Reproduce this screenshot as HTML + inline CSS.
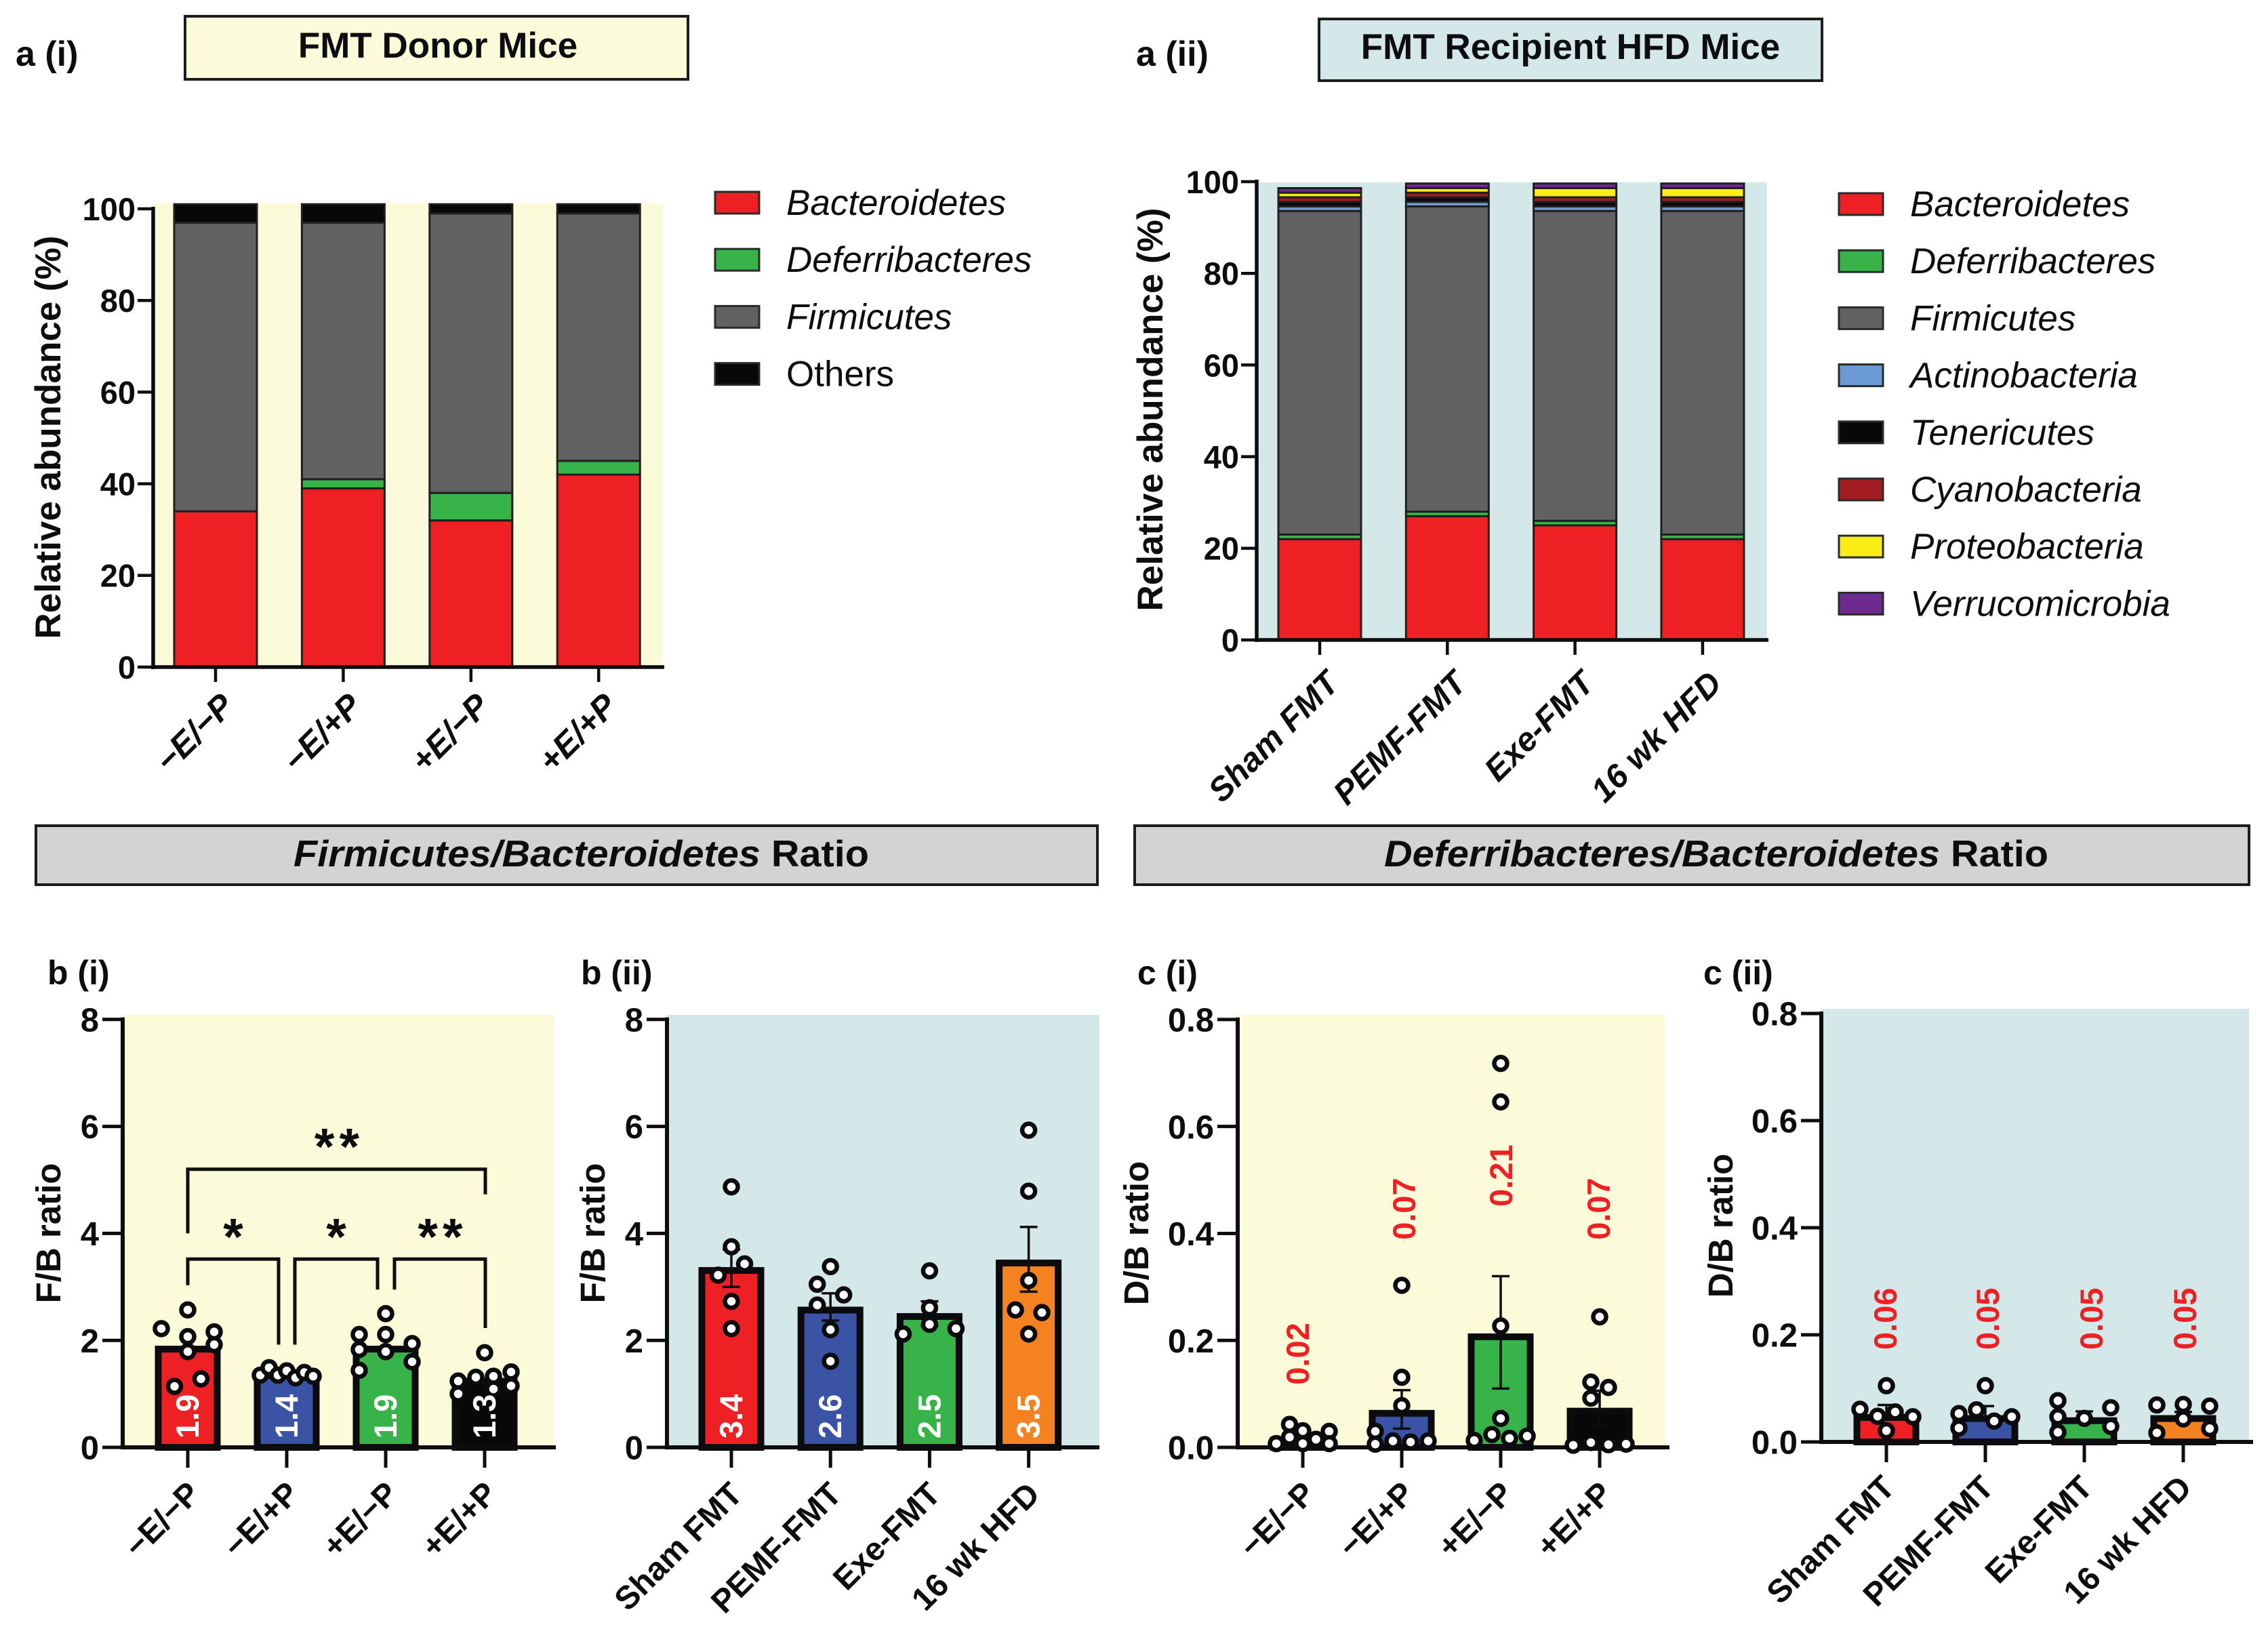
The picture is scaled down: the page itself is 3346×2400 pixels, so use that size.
<!DOCTYPE html>
<html lang="en">
<head>
<meta charset="utf-8">
<title>FMT microbiome abundance and ratio charts</title>
<style>
html,body{margin:0;padding:0;background:#fff;}
svg{display:block;font-family:"Liberation Sans",sans-serif;}
text{fill:#0d0d0f;}
</style>
</head>
<body>
<svg id="figure" xmlns="http://www.w3.org/2000/svg" width="3346" height="2400" viewBox="0 0 3346 2400">
  <rect x="0" y="0" width="3346" height="2400" fill="#ffffff"/>

  <text x="23" y="97" font-size="52" font-weight="700">a (i)</text>
  <text x="1676" y="97" font-size="52" font-weight="700">a (ii)</text>
  <text x="70" y="1452" font-size="50" font-weight="700">b (i)</text>
  <text x="857" y="1452" font-size="50" font-weight="700">b (ii)</text>
  <text x="1678" y="1452" font-size="50" font-weight="700">c (i)</text>
  <text x="2513" y="1452" font-size="50" font-weight="700">c (ii)</text>

  <rect x="273" y="24" width="742" height="93" fill="#fbfad9" stroke="#1c1c1c" stroke-width="4"/>
  <text x="646" y="85" font-size="53" font-weight="700" text-anchor="middle">FMT Donor Mice</text>
  <rect x="1946" y="28" width="742" height="91" fill="#d5e8e9" stroke="#1c1c1c" stroke-width="4"/>
  <text x="2317" y="87" font-size="53" font-weight="700" text-anchor="middle">FMT Recipient HFD Mice</text>

  <rect x="53" y="1218" width="1566" height="87" fill="#d1d3d4" stroke="#1c1c1c" stroke-width="4"/>
  <text x="433" y="1278" font-size="55" font-weight="700" textLength="849" lengthAdjust="spacingAndGlyphs"><tspan font-style="italic">Firmicutes/Bacteroidetes</tspan> Ratio</text>
  <rect x="1674" y="1218" width="1644" height="87" fill="#d1d3d4" stroke="#1c1c1c" stroke-width="4"/>
  <text x="2042" y="1278" font-size="55" font-weight="700" textLength="980" lengthAdjust="spacingAndGlyphs"><tspan font-style="italic">Deferribacteres/Bacteroidetes</tspan> Ratio</text>
</svg>

<script>
// ---------- chart data ----------
var donorGroups = ['\u2212E/\u2212P', '\u2212E/+P', '+E/\u2212P', '+E/+P'];
var recipientGroups = ['Sham FMT', 'PEMF-FMT', 'Exe-FMT', '16 wk HFD'];

var abundanceTicks = [0, 20, 40, 60, 80, 100];
var fbTicks = [0, 2, 4, 6, 8];
var dbTicks = [0.0, 0.2, 0.4, 0.6, 0.8];

var donorTaxa = ['Bacteroidetes', 'Deferribacteres', 'Firmicutes', 'Others'];
var donorBacteroidetes = [34, 39, 32, 42];
var donorDeferribacteres = [0, 2, 6, 3];
var donorFirmicutes = [63, 56, 61, 54];
var donorOthers = [4, 4, 2, 2];

var recipientTaxa = ['Bacteroidetes', 'Deferribacteres', 'Firmicutes', 'Actinobacteria', 'Tenericutes', 'Cyanobacteria', 'Proteobacteria', 'Verrucomicrobia'];
var recipientBacteroidetes = [22, 27, 25, 22];
var recipientDeferribacteres = [1, 1, 1, 1];
var recipientFirmicutes = [70.6, 66.6, 67.6, 70.6];
var recipientActinobacteria = [1, 1, 1, 1];
var recipientTenericutes = [1, 1, 1, 1];
var recipientCyanobacteria = [1, 1, 1, 1];
var recipientProteobacteria = [1, 1, 2, 2];
var recipientVerrucomicrobia = [1, 1, 1, 1];

var fbDonorMeans = [1.9, 1.4, 1.9, 1.3];
var fbDonorLabels = ['1.9', '1.4', '1.9', '1.3'];
var fbDonorErrLow = [1.9, 1.4, 1.9, 1.3];
var fbDonorErrHigh = [1.9, 1.4, 1.9, 1.3];
var fbDonorPoints = [
  [2.22, 2.57, 2.07, 2.16, 1.92, 1.79, 1.28, 1.14],
  [1.35, 1.49, 1.35, 1.43, 1.30, 1.40, 1.33],
  [2.11, 2.50, 2.11, 1.94, 1.83, 1.79, 1.60, 1.44],
  [1.77, 1.24, 1.31, 1.33, 1.41, 1.00, 1.15, 1.09]
];
var fbDonorJitter = [
  [-3, 0, 0, 3, 3, 0, 1.5, -1.5],
  [-3, -2, -1, 0, 1, 2, 3],
  [-3, 0, 0, 3, -3, 0, 3, -3],
  [0, -3, -1, 1, 3, -3, 3, 1]
];

var fbRecipientMeans = [3.37, 2.63, 2.51, 3.51];
var fbRecipientLabels = ['3.4', '2.6', '2.5', '3.5'];
var fbRecipientErrLow = [3.0, 2.37, 2.27, 2.91];
var fbRecipientErrHigh = [3.7, 2.88, 2.73, 4.12];
var fbRecipientPoints = [
  [4.87, 3.75, 3.43, 3.22, 2.73, 2.22],
  [3.38, 3.05, 2.85, 2.66, 2.20, 1.61],
  [3.30, 2.61, 2.30, 2.12, 2.22],
  [5.93, 4.79, 3.12, 2.57, 2.52, 2.12]
];
var fbRecipientJitter = [
  [0, 0, 1.5, -1.5, 0, 0],
  [0, -1.5, 1.5, -1.5, 0, 0],
  [0, 0, 0, -3, 3],
  [0, 0, 0, -1.5, 1.5, 0]
];

var dbDonorMeans = [0.02, 0.07, 0.213, 0.074];
var dbDonorLabels = ['0.02', '0.07', '0.21', '0.07'];
var dbDonorLabelAt = [0.117, 0.388, 0.45, 0.388];
var dbDonorErrLow = [0.015, 0.035, 0.11, 0.04];
var dbDonorErrHigh = [0.025, 0.107, 0.32, 0.106];
var dbDonorPoints = [
  [0.007, 0.043, 0.019, 0.031, 0.007, 0.015, 0.030, 0.007],
  [0.030, 0.006, 0.012, 0.010, 0.012, 0.131, 0.303, 0.078],
  [0.718, 0.646, 0.227, 0.054, 0.013, 0.024, 0.017, 0.021],
  [0.244, 0.122, 0.112, 0.092, 0.004, 0.009, 0.005, 0.006]
];
var dbDonorJitter = [
  [-3, -1.5, -1.5, 0, 0, 1.5, 3, 3],
  [-3, -3, -1, 1, 3, 0, 0, 0],
  [0, 0, 0, 0, -3, -1, 1, 3],
  [0, -1, 1, -1, -3, -1, 1, 3]
];

var dbRecipientMeans = [0.052, 0.05, 0.046, 0.05];
var dbRecipientLabels = ['0.06', '0.05', '0.05', '0.05'];
var dbRecipientLabelAt = [0.172, 0.172, 0.172, 0.172];
var dbRecipientErrLow = [0.045, 0.04, 0.036, 0.04];
var dbRecipientErrHigh = [0.069, 0.067, 0.057, 0.056];
var dbRecipientPoints = [
  [0.061, 0.105, 0.048, 0.056, 0.047, 0.021],
  [0.105, 0.053, 0.060, 0.039, 0.047, 0.026],
  [0.077, 0.047, 0.018, 0.044, 0.064, 0.029],
  [0.069, 0.070, 0.067, 0.043, 0.017, 0.025]
];
var dbRecipientJitter = [
  [-3, 0, -1, 1, 3, 0],
  [0, -3, -1, 1, 3, -3],
  [-3, -3, -3, 0, 3, 3],
  [-3, 0, 3, 0, -3, 3]
];

// ---------- styles ----------
var FONT_INK = '#0d0d0f';
var svg = document.getElementById('figure');
var SVGNS = 'http://www.w3.org/2000/svg';

function make(tag, attrs, parent, text) {
  var el = document.createElementNS(SVGNS, tag);
  for (var k in attrs) el.setAttribute(k, attrs[k]);
  if (text !== undefined) el.textContent = text;
  (parent || svg).appendChild(el);
  return el;
}

function line(x1, y1, x2, y2, w, parent) {
  return make('line', {x1: x1, y1: y1, x2: x2, y2: y2, stroke: FONT_INK, 'stroke-width': w}, parent);
}

function drawAxes(cfg, ticks, tickText) {
  var yOf = cfg.y;
  var bg = make('rect', {x: cfg.left, y: cfg.bgTop, width: cfg.right - cfg.left, height: cfg.base - cfg.bgTop, fill: cfg.bg});
  
  

  ticks.forEach(function (t, i) {
    var tick = line(cfg.left - cfg.tickLen, yOf(t), cfg.left, yOf(t), cfg.tickW);
    
    
    var lab = make('text', {x: cfg.left - cfg.tickLen - cfg.labelGap, y: yOf(t) + cfg.tickFont * 0.36, 'text-anchor': 'end', 'font-size': cfg.tickFont, 'font-weight': 700}, svg, tickText(t));
    
    
  });

  var title = make('text', {transform: 'translate(' + cfg.titleX + ' ' + cfg.titleY + ') rotate(-90)', 'text-anchor': 'middle', 'font-size': cfg.titleFont, 'font-weight': 700}, svg, cfg.title);
  
  
}

function drawAxisLines(cfg, groups) {
  var yAxis = line(cfg.left, yTop(cfg) - 3, cfg.left, cfg.base + 3, cfg.axisW);
  
  
  var xAxis = line(cfg.left - cfg.axisW / 2, cfg.base, cfg.axisEnd, cfg.base, cfg.axisW);
  
  

  groups.forEach(function (g, i) {
    var cx = cfg.x(i);
    var tick = line(cx, cfg.base, cx, cfg.base + cfg.xTickLen, cfg.tickW);
    
    
    var lab = make('text', {
      transform: 'translate(' + (cx + cfg.xLabelDx) + ' ' + (cfg.base + cfg.xLabelDy) + ') rotate(-45)',
      'text-anchor': 'end', 'font-size': cfg.xFont, 'font-weight': 700, 'font-style': cfg.xStyle
    }, svg, g);
    
    
  });
}

function yTop(cfg) { return cfg.y(cfg.yMax); }

// ---------- stacked panels ----------
function drawStacked(cfg, groups, taxa, series, colors) {
  drawAxes(cfg, abundanceTicks, function (t) { return String(t); });
  groups.forEach(function (g, i) {
    var running = 0;
    series.forEach(function (values, s) {
      var v = values[i];
      var top = cfg.y(running + v), bottom = cfg.y(running);
      running += v;
      if (v <= 0) return;
      var seg = make('rect', {x: cfg.x(i) - 61, y: top, width: 122, height: bottom - top, fill: colors[s], stroke: '#1f1f1f', 'stroke-width': 3});
      
      
    });
  });
  drawAxisLines(cfg, groups);

  taxa.forEach(function (name, s) {
    var cy = cfg.legendY + s * 84.2;
    var sw = make('rect', {x: cfg.legendX, y: cy - 16, width: 65, height: 32, fill: colors[s], stroke: '#2a2a2a', 'stroke-width': 3});
    
    
    var tx = make('text', {x: cfg.legendX + 105, y: cy + 18, 'font-size': 53, 'font-style': name === 'Others' ? 'normal' : 'italic'}, svg, name);
    
    
  });
}

// ---------- ratio panels ----------
function drawRatio(cfg, groups, means, errLow, errHigh, points, jitter, labels, ticks, tickText, colors, labelAt) {
  drawAxes(cfg, ticks, tickText);
  groups.forEach(function (g, i) {
    var cx = cfg.x(i);
    var bar = make('rect', {x: cx - 43.5, y: cfg.y(means[i]) + 5, width: 87, height: Math.max(0, cfg.base - cfg.y(means[i]) - 5), fill: colors[i], stroke: '#0b0b0d', 'stroke-width': 10});
    
    

    if (errHigh[i] > errLow[i]) {
      var stem = line(cx, cfg.y(errLow[i]), cx, cfg.y(errHigh[i]), 3.5);
      
      
      var capHigh = line(cx - 13, cfg.y(errHigh[i]), cx + 13, cfg.y(errHigh[i]), 3.5);
      
      
      var capLow = line(cx - 13, cfg.y(errLow[i]), cx + 13, cfg.y(errLow[i]), 3.5);
      
      
    }
  });

  drawAxisLines(cfg, groups);

  groups.forEach(function (g, i) {
    var cx = cfg.x(i);
    points[i].forEach(function (v, p) {
      var dot = make('circle', {cx: cx + jitter[i][p] * 13, cy: cfg.y(v), r: 9.5, fill: '#ffffff', stroke: '#0b0b0d', 'stroke-width': 6.5});
      
      
    });
    var lx, ly, fill;
    if (labelAt) {
      lx = cx + cfg.labelDx[i] + 16;
      ly = cfg.y(labelAt[i]);
      fill = '#ee2024';
    } else {
      lx = cx + 16;
      ly = cfg.base - 13;
      fill = '#ffffff';
    }
    var val = make('text', {transform: 'translate(' + lx + ' ' + ly + ') rotate(-90)', 'font-size': 47, 'font-weight': 700, style: 'fill:' + fill}, svg, labels[i]);
    
    
  });
}

// ---------- significance brackets (panel b i) ----------
function drawBracket(cfg, iA, iB, level, endA, endB, offA, offB, stars) {
  var xa = cfg.x(iA) + offA, xb = cfg.x(iB) + offB, yl = cfg.y(level);
  var br = make('path', {d: 'M' + xa + ' ' + cfg.y(endA) + 'V' + yl + 'H' + xb + 'V' + cfg.y(endB), fill: 'none', stroke: FONT_INK, 'stroke-width': 5});
  
  
  var st = make('text', {x: (xa + xb) / 2 + (stars.length > 1 ? 4 : 0), y: yl - 7, 'text-anchor': 'middle', 'font-size': 76, 'font-weight': 700, 'letter-spacing': stars.length > 1 ? 7 : 0}, svg, stars);
  
  
}

// ---------- panel layouts ----------
function linY(base, unit) { return function (v) { return base - v * unit; }; }
function linX(first, step) { return function (i) { return first + i * step; }; }

var stackCommon = {tickLen: 23, tickW: 4.5, axisW: 5.5, labelGap: 3, tickFont: 47, titleFont: 53, xTickLen: 22, xFont: 44, yMax: 100};

function merge(a, b) { var o = {}; for (var k in a) o[k] = a[k]; for (var j in b) o[j] = b[j]; return o; }

var panelAi = merge(stackCommon, {id: 'donor-abundance', left: 226, right: 978, axisEnd: 980, bgTop: 300, base: 984, bg: '#fbfad9', y: linY(984, 6.76), x: linX(318, 188.4), title: 'Relative abundance (%)', titleX: 89, titleY: 645, xLabelDx: 30, xLabelDy: 60, xStyle: 'italic', xFont: 50, legendX: 1055, legendY: 299});
var panelAii = merge(stackCommon, {id: 'recipient-abundance', left: 1854, right: 2607, axisEnd: 2609, bgTop: 269, base: 944, bg: '#d5e8e9', y: linY(944, 6.76), x: linX(1947, 188.3), title: 'Relative abundance (%)', titleX: 1715, titleY: 604, xLabelDx: 31, xLabelDy: 67, xStyle: 'italic', xFont: 49, legendX: 2713, legendY: 301});

var ratioCommon = {tickLen: 30, tickW: 5, axisW: 6, labelGap: 5, tickFont: 49, titleFont: 51, xTickLen: 30, xFont: 48, xStyle: 'normal', xLabelDx: 21, xLabelDy: 71, bgTop: 1497, base: 2135};

var panelBi = merge(ratioCommon, {id: 'fb-donor', left: 181, right: 818, axisEnd: 820, bg: '#fbfad9', y: linY(2135, 78.9), x: linX(277, 146), yMax: 8, title: 'F/B ratio', titleX: 89, titleY: 1819});
var panelBii = merge(ratioCommon, {id: 'fb-recipient', left: 984, right: 1622, axisEnd: 1622, bg: '#d5e8e9', y: linY(2135, 78.9), x: linX(1079, 146.2), yMax: 8, title: 'F/B ratio', titleX: 892, titleY: 1819, xLabelDx: 19, xLabelDy: 72});
var panelCi = merge(ratioCommon, {id: 'db-donor', left: 1826, right: 2457, axisEnd: 2463, bg: '#fbfad9', y: linY(2135, 788.9), x: linX(1922, 146), yMax: 0.8, title: 'D/B ratio', titleX: 1694, titleY: 1819, labelDx: [-7, 4, 1, -1]});
var panelCii = merge(ratioCommon, {id: 'db-recipient', left: 2687, right: 3318, axisEnd: 3324, bgTop: 1488, base: 2127, bg: '#d5e8e9', y: linY(2127, 790), x: linX(2783, 146), yMax: 0.8, title: 'D/B ratio', titleX: 2556, titleY: 1808, labelDx: [-1, 4, 11, 3], xLabelDx: 15, xLabelDy: 70});

var red = '#ee2024', green = '#37b34a', grey = '#626262', steel = '#6b9bd2', black = '#08080a', darkRed = '#a01c20', yellow = '#f9ed15', purple = '#6f2a90', blue = '#3a53a4', orange = '#f58220';

drawStacked(panelAi, donorGroups, donorTaxa,
  [donorBacteroidetes, donorDeferribacteres, donorFirmicutes, donorOthers],
  [red, green, grey, black]);

drawStacked(panelAii, recipientGroups, recipientTaxa,
  [recipientBacteroidetes, recipientDeferribacteres, recipientFirmicutes, recipientActinobacteria, recipientTenericutes, recipientCyanobacteria, recipientProteobacteria, recipientVerrucomicrobia],
  [red, green, grey, steel, black, darkRed, yellow, purple]);

function intText(t) { return String(t); }
function decText(t) { return t.toFixed(1); }

drawRatio(panelBi, donorGroups, fbDonorMeans, fbDonorErrLow, fbDonorErrHigh, fbDonorPoints, fbDonorJitter, fbDonorLabels, fbTicks, intText, [red, blue, green, black]);
drawRatio(panelBii, recipientGroups, fbRecipientMeans, fbRecipientErrLow, fbRecipientErrHigh, fbRecipientPoints, fbRecipientJitter, fbRecipientLabels, fbTicks, intText, [red, blue, green, orange]);
drawRatio(panelCi, donorGroups, dbDonorMeans, dbDonorErrLow, dbDonorErrHigh, dbDonorPoints, dbDonorJitter, dbDonorLabels, dbTicks, decText, [red, blue, green, black], dbDonorLabelAt);
drawRatio(panelCii, recipientGroups, dbRecipientMeans, dbRecipientErrLow, dbRecipientErrHigh, dbRecipientPoints, dbRecipientJitter, dbRecipientLabels, dbTicks, decText, [red, blue, green, orange], dbRecipientLabelAt);

drawBracket(panelBi, 0, 3, 5.2, 4.0, 4.73, 0, 1, '**');
drawBracket(panelBi, 0, 1, 3.52, 3.03, 1.92, 0, -12, '*');
drawBracket(panelBi, 1, 2, 3.52, 1.92, 2.95, 12, -12, '*');
drawBracket(panelBi, 2, 3, 3.52, 2.95, 2.23, 13, 1, '**');
</script>
</body>
</html>
